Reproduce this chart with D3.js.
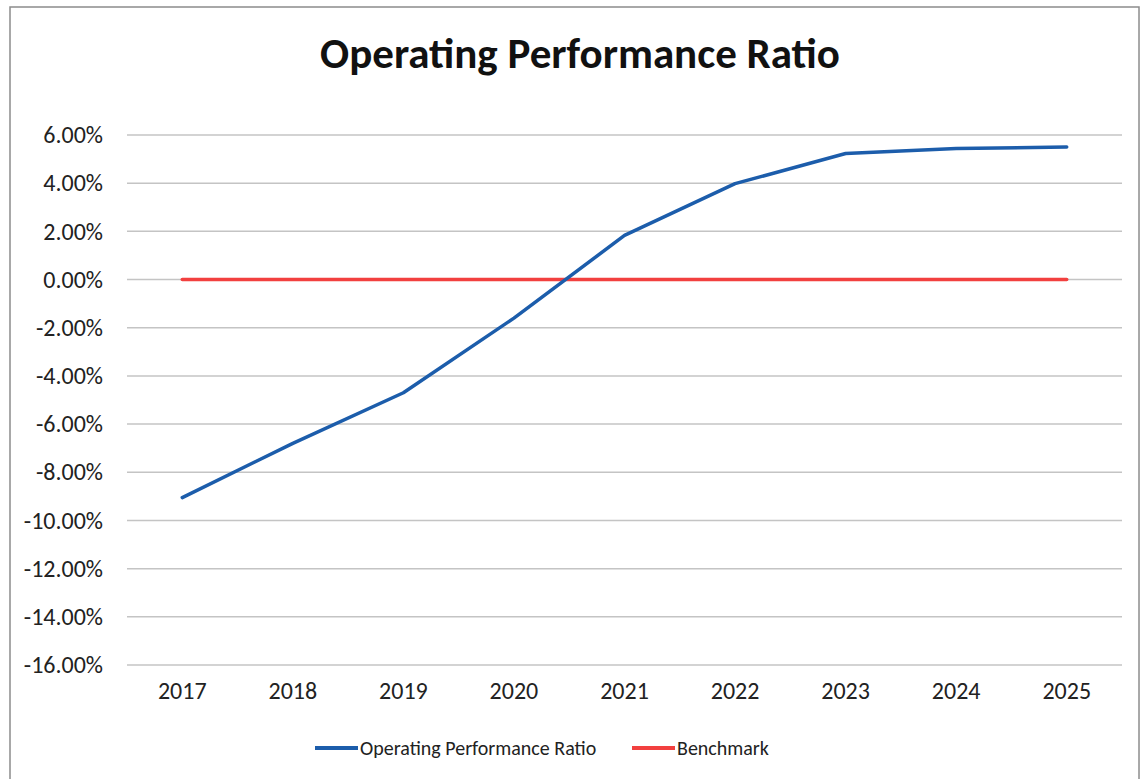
<!DOCTYPE html>
<html>
<head>
<meta charset="utf-8">
<script src="https://cdn.jsdelivr.net/npm/d3@7"></script>
<style>
  html, body { margin: 0; padding: 0; background: #fff; }
  svg { display: block; font-family: Carlito, Lato, "Open Sans", sans-serif; }
</style>
</head>
<body>
<svg id="chart" width="1141" height="779"></svg>
<script>
// chart data
const years = ["2017", "2018", "2019", "2020", "2021", "2022", "2023", "2024", "2025"];
const opRatio = [-9.05, -6.8, -4.7, -1.6, 1.83, 3.98, 5.23, 5.44, 5.5];
const benchmark = [0, 0, 0, 0, 0, 0, 0, 0, 0];
const yTicks = [6, 4, 2, 0, -2, -4, -6, -8, -10, -12, -14, -16];
const seriesNames = ["Operating Performance Ratio", "Benchmark"];

const blue = "#1c5dab";
const red = "#f2403f";

const svg = d3.select("#chart");
const W = 1141, H = 779;

// outer frame
svg.append("rect")
  .attr("x", 10).attr("y", 7)
  .attr("width", W - 12).attr("height", H - 4)
  .attr("fill", "#fff")
  .attr("stroke", "#8c8c8c")
  .attr("stroke-width", 1.5);

// title
svg.append("text")
  .attr("x", 580).attr("y", 68)
  .attr("text-anchor", "middle")
  .attr("font-size", 43)
  .attr("font-weight", "bold")
  .attr("fill", "#111")
  .text("Operating Performance Ratio");

// scales
const x = d3.scaleBand().domain(years).range([127, 1122]);
const y = d3.scaleLinear().domain([-16, 6]).range([665, 135]);
const cx = d => x(d) + x.bandwidth() / 2;

// horizontal gridlines
svg.append("g")
  .selectAll("line")
  .data(yTicks)
  .join("line")
  .attr("x1", 127).attr("x2", 1122)
  .attr("y1", d => y(d)).attr("y2", d => y(d))
  .attr("stroke", "#c4c4c4")
  .attr("stroke-width", 1.5);

// y axis labels
const yAxis = svg.append("g")
  .attr("transform", "translate(103,0)")
  .call(d3.axisLeft(y).tickValues(yTicks).tickSize(0).tickPadding(0)
    .tickFormat(d => d.toFixed(2) + "%"));
yAxis.select(".domain").remove();
yAxis.selectAll("text")
  .attr("font-size", 24)
  .attr("font-family", "Carlito, Lato, sans-serif")
  .attr("fill", "#222");

// x axis labels
const xAxis = svg.append("g")
  .attr("transform", "translate(0,682)")
  .call(d3.axisBottom(x).tickSize(0).tickPadding(0));
xAxis.select(".domain").remove();
xAxis.selectAll("text")
  .attr("font-size", 24)
  .attr("font-family", "Carlito, Lato, sans-serif")
  .attr("fill", "#222");

// lines
const line = d3.line()
  .x((d, i) => cx(years[i]))
  .y(d => y(d));

svg.append("path")
  .datum(benchmark)
  .attr("d", line)
  .attr("fill", "none")
  .attr("stroke", red)
  .attr("stroke-width", 3.5)
  .attr("stroke-linecap", "round");

svg.append("path")
  .datum(opRatio)
  .attr("d", line)
  .attr("fill", "none")
  .attr("stroke", blue)
  .attr("stroke-width", 3.5)
  .attr("stroke-linecap", "round")
  .attr("stroke-linejoin", "round");

// legend
const legendItems = [
  { name: seriesNames[0], color: blue, x0: 315 },
  { name: seriesNames[1], color: red, x0: 632 }
];
const legend = svg.append("g").attr("class", "legend");
legendItems.forEach(item => {
  legend.append("line")
    .attr("x1", item.x0).attr("x2", item.x0 + 43)
    .attr("y1", 748).attr("y2", 748)
    .attr("stroke", item.color)
    .attr("stroke-width", 4);
  legend.append("text")
    .attr("x", item.x0 + 45).attr("y", 755)
    .attr("font-size", 20)
    .attr("fill", "#222")
    .text(item.name);
});
</script>
</body>
</html>
